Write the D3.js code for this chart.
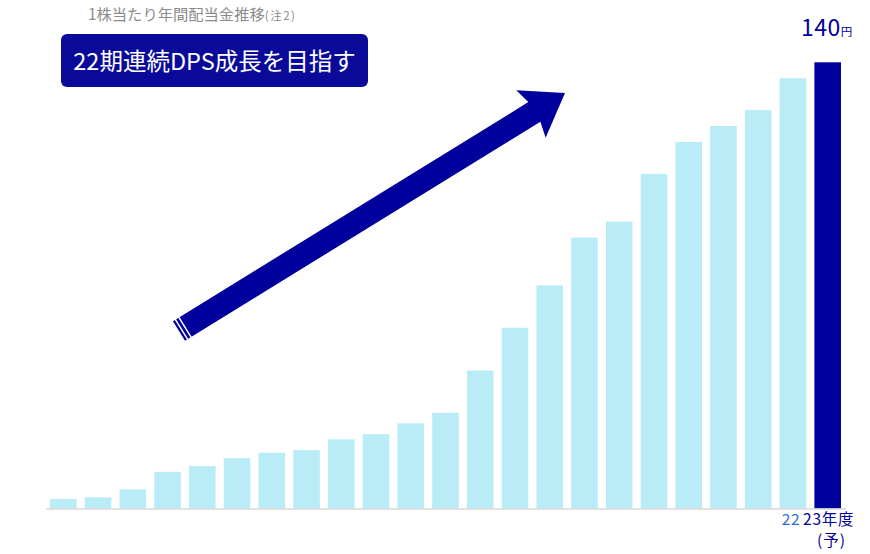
<!DOCTYPE html>
<html>
<head>
<meta charset="utf-8">
<script src="https://cdn.jsdelivr.net/npm/d3@7"></script>
<style>
  body { margin: 0; background: #fff; }
  svg { display: block; font-family: "Noto Sans CJK JP", "Noto Sans", sans-serif; }
</style>
</head>
<body>
<div id="chart"></div>
<script>
// fiscal years 01 .. 23 (23 is forecast)
const years = ["01","02","03","04","05","06","07","08","09","10","11","12",
               "13","14","15","16","17","18","19","20","21","22","23"];
// annual dividend per share (yen)
const dps = [3, 3.5, 6, 11.5, 13.3, 15.8, 17.5, 18.3, 21.7, 23.3, 26.7, 30,
             43.3, 56.7, 70, 85, 90, 105, 115, 120, 125, 135, 140];
// only the last two years carry a label
const tickLabels = [{ year: "22", text: "22" }, { year: "23", text: "23年度" }];

const width = 870;
const height = 554;
const light = '#b9ecf7';
const navy = '#00009c';

const svg = d3.select('#chart')
  .append('svg')
    .attr('width', width)
    .attr('height', height)
    .attr('viewBox', [0, 0, width, height]);

const x = d3.scaleBand()
  .domain(years)
  .range([50, 841])
  .paddingInner(0.234)
  .paddingOuter(0);

const y = d3.scaleLinear()
  .domain([0, 140])
  .range([508.5, 62.3]);

// bars
svg.selectAll('rect.bar')
  .data(years)
  .join('rect')
    .attr('class', 'bar')
    .attr('x', d => x(d))
    .attr('y', (d, i) => y(dps[i]))
    .attr('width', x.bandwidth())
    .attr('height', (d, i) => y(0) - y(dps[i]))
    .attr('fill', (d, i) => i === years.length - 1 ? navy : light);

// baseline
svg.append('line')
  .attr('x1', 46).attr('x2', 846)
  .attr('y1', y(0) + 0.5).attr('y2', y(0) + 0.5)
  .attr('stroke', '#d9d9d9')
  .attr('stroke-width', 1.5);

// x labels
svg.selectAll('.xlabel')
  .data(tickLabels)
  .join('text')
    .attr('class', 'xlabel')
    .attr('x', d => d.year === '23' ? 803 : 800)
    .attr('y', 525)
    .attr('text-anchor', d => d.year === '23' ? 'start' : 'end')
    .attr('font-size', 15.5)
    .attr('letter-spacing', d => d.year === '23' ? 0.8 : 0.5)
    .attr('fill', d => d.year === '23' ? navy : '#2f6fd0')
    .text(d => d.text);

svg.append('text')
  .attr('x', 831.5)
  .attr('y', 546)
  .attr('text-anchor', 'middle')
  .attr('font-size', 15.5)
  .attr('letter-spacing', 1)
  .attr('fill', navy)
  .text('(予)');

// value label on last bar
const lastLabel = svg.append('text')
  .attr('x', 801)
  .attr('y', 36)
  .attr('fill', navy);
lastLabel.append('tspan').attr('font-size', 23).attr('letter-spacing', 0.5).text(dps[dps.length - 1]);
lastLabel.append('tspan').attr('font-size', 11.5).text('円');

// title
const title = svg.append('text')
  .attr('x', 88)
  .attr('y', 20)
  .attr('fill', '#8c8c8c');
title.append('tspan').attr('font-size', 15.3).text('1株当たり年間配当金推移');
title.append('tspan').attr('font-size', 11.5).attr('letter-spacing', 1.5).text('(注2)');

// banner
svg.append('rect')
  .attr('x', 61).attr('y', 34)
  .attr('width', 307).attr('height', 53)
  .attr('rx', 6)
  .attr('fill', '#0a0a9a');

svg.append('text')
  .attr('x', 214.5)
  .attr('y', 70)
  .attr('text-anchor', 'middle')
  .attr('font-size', 23.5)
  .attr('fill', '#fff')
  .text('22期連続DPS成長を目指す');

// growth arrow (decoration)
const tail = [179, 331];
const tip = [565, 93];
const len = Math.hypot(tip[0] - tail[0], tip[1] - tail[1]);
const ang = Math.atan2(tip[1] - tail[1], tip[0] - tail[0]) * 180 / Math.PI;
const shaft = 11.5;
const headW = 28;
const headL = 36;

const arrow = svg.append('g')
  .attr('transform', `translate(${tail[0]},${tail[1]}) rotate(${ang})`);

arrow.append('path')
  .attr('d', d3.line()([
    [0, -shaft], [len - headL, -shaft], [len - headL - 4, -headW],
    [len, 0], [len - headL - 4, headW], [len - headL, shaft], [0, shaft]
  ]) + 'Z')
  .attr('fill', navy);

arrow.selectAll('.stripe')
  .data([3, 7])
  .join('line')
    .attr('class', 'stripe')
    .attr('x1', d => d).attr('x2', d => d)
    .attr('y1', -shaft - 1).attr('y2', shaft + 1)
    .attr('stroke', '#fff')
    .attr('stroke-width', 1.5);
</script>
</body>
</html>
